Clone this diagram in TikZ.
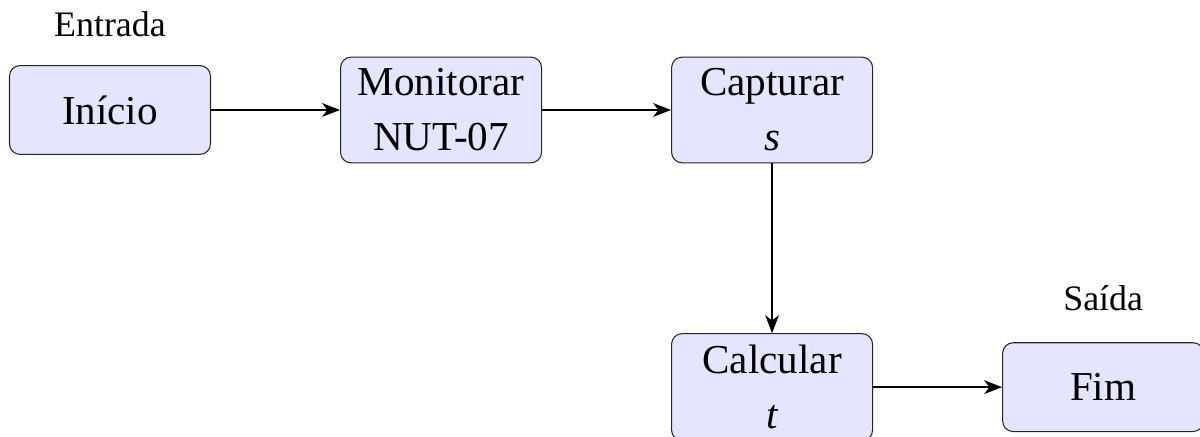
\documentclass[tikz,border=0pt]{standalone}
\usepackage{fontspec}
\setmainfont{Liberation Serif}
\usepackage{tikz}
\usetikzlibrary{arrows.meta, positioning}

\begin{document}
\begin{tikzpicture}[
  node distance=2.15cm,
  box/.style={draw=black!85, rounded corners=5pt, minimum height=1.48cm, minimum width=3.35cm, align=center, font=\fontsize{19.5}{26}\selectfont, fill=blue!10, line width=0.5pt, inner xsep=3pt, inner ysep=5.5pt},
  lbl/.style={font=\fontsize{17}{19}\selectfont},
  arr/.style={-{Stealth[length=8.5pt, width=6.5pt, inset=2.5pt]}, line width=1pt}
]
\useasboundingbox (0,0) rectangle (20,-7.267);
\node[box] (ini) at (1.833,-1.833) {Início};
\node[box, right=of ini] (mon) {Monitorar\\NUT-07};
\node[box, right=of mon] (cap) {Capturar\\$\mathit{s}$};
\node[box, below=2.83cm of cap] (calc) {Calcular\\$\mathit{t}$};
\node[box, right=of calc] (fim) {Fim};

\node[lbl, above=0.35cm of ini] (ent) {Entrada};
\node[lbl, above=0.4cm of fim] (sai) {Saída};

\draw[arr] (ini) -- (mon);
\draw[arr] (mon) -- (cap);
\draw[arr] (cap) -- (calc);
\draw[arr] (calc) -- (fim);
\end{tikzpicture}
\end{document}
